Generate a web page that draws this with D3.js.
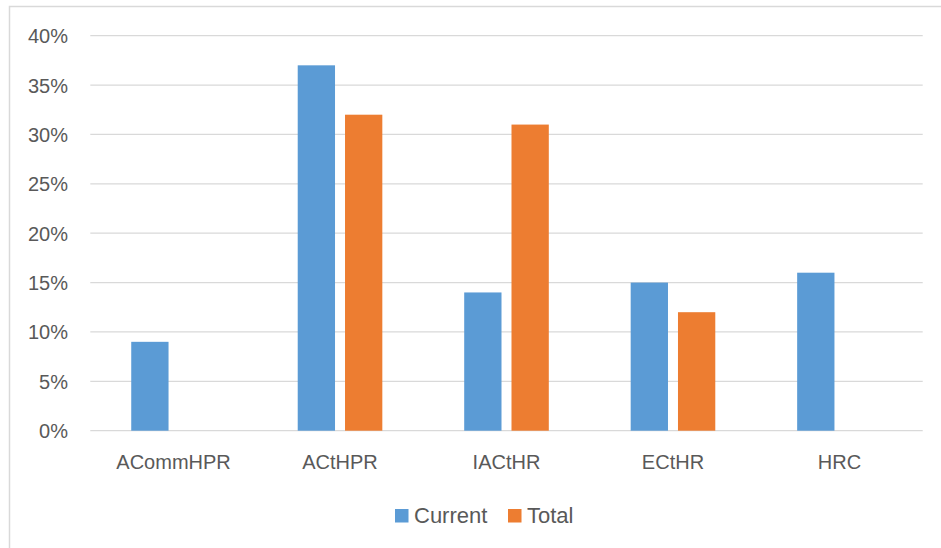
<!DOCTYPE html>
<html>
<head>
<meta charset="utf-8">
<script src="https://cdn.jsdelivr.net/npm/d3@7"></script>
<style>
  html, body { margin: 0; padding: 0; background: #fff; }
  svg { display: block; font-family: "Liberation Sans", Arial, sans-serif; }
</style>
</head>
<body>
<svg id="chart" width="941" height="548"></svg>
<script>
const categories = ["ACommHPR", "ACtHPR", "IACtHR", "ECtHR", "HRC"];
const seriesNames = ["Current", "Total"];
const currentValues = [0.09, 0.37, 0.14, 0.15, 0.16];
const totalValues = [0, 0.32, 0.31, 0.12, 0];
const yTicks = [0, 0.05, 0.10, 0.15, 0.20, 0.25, 0.30, 0.35, 0.40];
const colors = ["#5B9BD5", "#ED7D31"];

const svg = d3.select("#chart");
const plotLeft = 90.3, plotRight = 922.7, plotTop = 35.7, plotBottom = 430.7;

// outer chart border
svg.append("rect").attr("x", 9.5).attr("y", 6.5).attr("width", 940).attr("height", 560)
  .attr("fill", "#fff").attr("stroke", "#D9D9D9").attr("stroke-width", 1.5);

const x = d3.scaleBand().domain(categories).range([plotLeft, plotRight]);
const y = d3.scaleLinear().domain([0, 0.40]).range([plotBottom, plotTop]);

// gridlines
svg.append("g").selectAll("line").data(yTicks).join("line")
  .attr("x1", plotLeft).attr("x2", plotRight)
  .attr("y1", d => y(d)).attr("y2", d => y(d))
  .attr("stroke", "#D9D9D9").attr("stroke-width", 1.3);

// y axis labels
const yAxis = d3.axisLeft(y).tickValues(yTicks).tickFormat(d3.format(".0%")).tickSize(0).tickPadding(0);
const gy = svg.append("g").attr("transform", `translate(68,0)`).call(yAxis);
gy.select(".domain").remove();
gy.selectAll("text").attr("font-size", 20).attr("fill", "#595959")
  .attr("font-family", "'Liberation Sans', Arial, sans-serif").attr("dy", "0.35em");

// x axis labels
const xAxis = d3.axisBottom(x).tickSize(0).tickPadding(0);
const gx = svg.append("g").attr("transform", `translate(0,${plotBottom})`).call(xAxis);
gx.select(".domain").remove();
gx.selectAll("text").attr("font-size", 20).attr("fill", "#595959")
  .attr("font-family", "'Liberation Sans', Arial, sans-serif").attr("dy", 0).attr("y", 38.5);

// bars
const barW = 37.3, gap = 10;
const data = categories.map((c, i) => ({ c, vals: [currentValues[i], totalValues[i]] }));
data.forEach(d => {
  const cx = x(d.c) + x.bandwidth() / 2;
  d.vals.forEach((v, k) => {
    if (v <= 0) return;
    const bx = k === 0 ? cx - gap / 2 - barW : cx + gap / 2;
    svg.append("rect").attr("x", bx).attr("y", y(v))
      .attr("width", barW).attr("height", y(0) - y(v)).attr("fill", colors[k]);
  });
});

// legend
const legendItems = [{ name: seriesNames[0], x: 395 }, { name: seriesNames[1], x: 508 }];
const lg = svg.append("g");
legendItems.forEach((it, k) => {
  lg.append("rect").attr("x", it.x).attr("y", 509).attr("width", 13.5).attr("height", 13.5).attr("fill", colors[k]);
  lg.append("text").attr("x", it.x + 19).attr("y", 523).attr("font-size", 22).attr("fill", "#595959").text(it.name);
});
</script>
</body>
</html>
